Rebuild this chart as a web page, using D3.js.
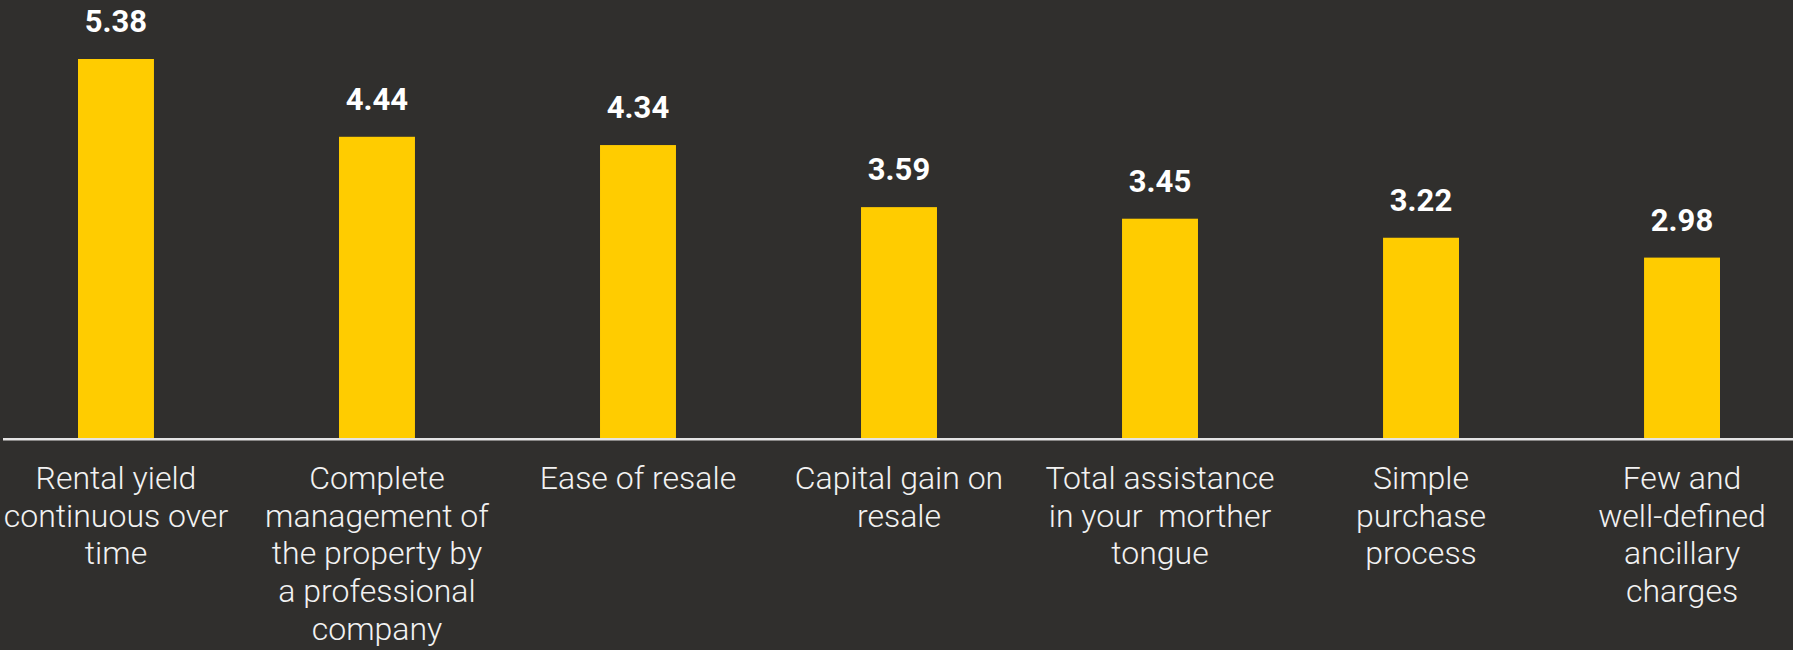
<!DOCTYPE html>
<html>
<head>
<meta charset="utf-8">
<script src="https://cdn.jsdelivr.net/npm/d3@7"></script>
<style>
  html, body { margin: 0; padding: 0; background: #302f2d; }
  svg { display: block; }
  .cat { font-family: Roboto, "Noto Sans", sans-serif; font-weight: 300; white-space: pre; }
  .val { font-family: Roboto, "Noto Sans", sans-serif; font-weight: 700; }
</style>
</head>
<body>
<svg id="chart"></svg>
<script>
// Importance scores per purchase criterion
const categories = [
  ["Rental yield", "continuous over", "time"],
  ["Complete", "management of", "the property by", "a professional", "company"],
  ["Ease of resale"],
  ["Capital gain on", "resale"],
  ["Total assistance", "in your  morther", "tongue"],
  ["Simple", "purchase", "process"],
  ["Few and", "well-defined", "ancillary", "charges"]
];
const values = [5.38, 4.44, 4.34, 3.59, 3.45, 3.22, 2.98];
const valueLabels = ["5.38", "4.44", "4.34", "3.59", "3.45", "3.22", "2.98"];

const W = 1793, H = 650;
const baseY = 438;

const svg = d3.select("#chart").attr("width", W).attr("height", H);
svg.append("rect").attr("width", W).attr("height", H).attr("fill", "#302f2d");

const ids = d3.range(values.length);

const x = d3.scaleBand()
  .domain(ids)
  .range([78, 1720])
  .paddingInner(0.709)
  .paddingOuter(0);

// Value axis starts above zero, as in the original layout
const y = d3.scaleLinear()
  .domain([0.8, 5.38])
  .range([baseY, 59]);

// Bars
svg.append("g").selectAll("rect")
  .data(ids)
  .join("rect")
  .attr("x", i => x(i))
  .attr("width", x.bandwidth())
  .attr("y", i => y(values[i]))
  .attr("height", i => baseY - y(values[i]))
  .attr("fill", "#ffcc00");

// Baseline
svg.append("line")
  .attr("x1", 3).attr("x2", W)
  .attr("y1", baseY + 1.2).attr("y2", baseY + 1.2)
  .attr("stroke", "#e4e4e4")
  .attr("stroke-width", 2.6);

// Value labels
svg.append("g").selectAll("text")
  .data(ids)
  .join("text")
  .attr("class", "val")
  .attr("x", i => x(i) + x.bandwidth() / 2)
  .attr("y", i => y(values[i]) - 27)
  .attr("text-anchor", "middle")
  .attr("font-size", 31)
  .attr("fill", "#ffffff")
  .text(i => valueLabels[i]);

// Category labels
const lineH = 37.7;
const catG = svg.append("g").selectAll("text")
  .data(ids)
  .join("text")
  .attr("class", "cat")
  .attr("text-anchor", "middle")
  .attr("font-size", 32)
  .attr("fill", "#f2f2f2");

catG.selectAll("tspan")
  .data(i => categories[i].map((t, k) => ({ t, k, i })))
  .join("tspan")
  .attr("x", d => x(d.i) + x.bandwidth() / 2)
  .attr("y", d => baseY + 51 + d.k * lineH)
  .text(d => d.t);
</script>
</body>
</html>
